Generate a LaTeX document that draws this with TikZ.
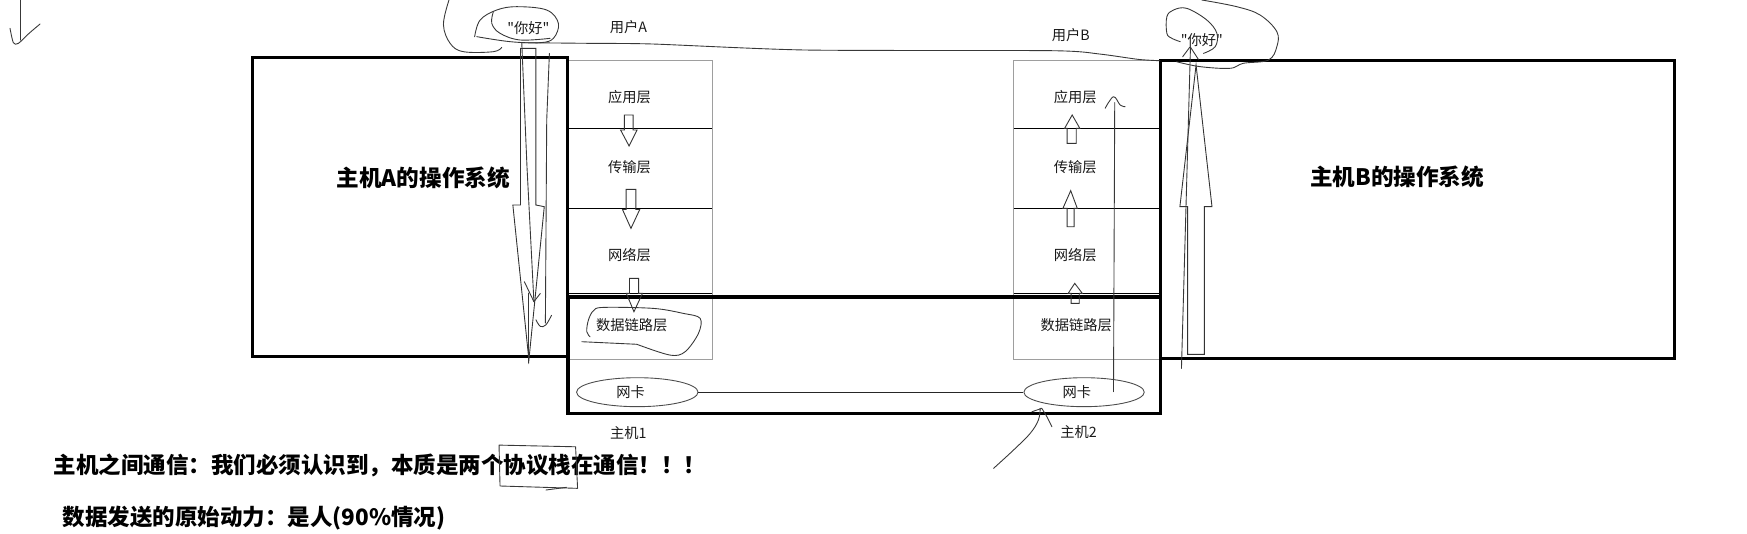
\documentclass[tikz,border=0pt]{standalone}
\usepackage{fontspec}
\setmainfont{Noto Sans CJK SC}
\newfontfamily\rawcjk{Noto Sans CJK SC}
\usetikzlibrary{shapes.geometric}
\begin{document}
\begin{tikzpicture}[x=1pt,y=-1pt,
  thickbox/.style={draw=black, line width=3pt, rectangle, inner sep=0pt},
  layerbox/.style={draw=black!38, line width=0.9pt, rectangle, inner sep=0pt},
  sep/.style={draw=black, line width=0.9pt},
  lbl/.style={font=\fontsize{12.8}{14}\selectfont, text=black!90, inner sep=0pt},
  hello/.style={font=\rawcjk\fontsize{12.8}{14}\selectfont, text=black!90, inner sep=0pt},
  oslbl/.style={font=\fontsize{20.3}{24}\selectfont\bfseries, inner sep=0pt},
  note/.style={font=\fontsize{20.2}{24}\selectfont\bfseries, inner sep=0pt, anchor=west},
  scrib/.style={draw=black!78, line width=0.8pt, line join=round, line cap=round},
  hollow/.style={draw=black!80, line width=0.8pt, line join=miter},
  nic/.style={ellipse, draw=black!70, line width=0.8pt, minimum width=109pt, minimum height=26pt, inner sep=0pt},
  link/.style={draw=black!85, line width=0.8pt}
]
\useasboundingbox (0,0) rectangle (1568,479);

% protocol stacks (grey frames, black separators)
\node[layerbox, minimum width=129.9pt, minimum height=269.1pt] (stackA) at (574.45,188.45) {};
\node[layerbox, minimum width=131.2pt, minimum height=269.1pt] (stackB) at (975.4,188.45) {};
\foreach \yy in {115.2,187,263.3}{
  \draw[sep] (509.5,\yy) -- (639.4,\yy);
  \draw[sep] (909.8,\yy) -- (1041,\yy);
}

% operating systems and host area
\node[thickbox, minimum width=282.7pt, minimum height=268.5pt] (osA) at (368.05,185.75) {};
\node[thickbox, minimum width=461.7pt, minimum height=267.5pt] (osB) at (1272.15,188.25) {};
\node[thickbox, minimum width=531.4pt, minimum height=104.4pt] (hosts) at (775.6,318.8) {};

\node[oslbl] (osAtxt) at (380,160) {主机A的操作系统};
\node[oslbl] (osBtxt) at (1254,159) {主机B的操作系统};

% layer labels
\node[lbl] (appA) at (565,87) {应用层};
\node[lbl] (traA) at (565,150) {传输层};
\node[lbl] (netA) at (565,229) {网络层};
\node[lbl] (dlA) at (567,292) {数据链路层};
\node[lbl] (appB) at (965,87) {应用层};
\node[lbl] (traB) at (965,150) {传输层};
\node[lbl] (netB) at (965,229) {网络层};
\node[lbl] (dlB) at (966,292) {数据链路层};

% users and hello
\node[lbl] (userA) at (564,24) {用户A};
\node[lbl] (userB) at (961,31.5) {用户B};
\node[hello] (helloA) at (474.3,25.4) {"你好"};
\node[hello] (helloB) at (1078.7,35.9) {"你好"};

% network cards
\node[nic] (nicA) at (572,352) {};
\node[nic, minimum width=108pt] (nicB) at (973,352) {};
\node[lbl] (nicAtxt) at (566,352) {网卡};
\node[lbl] (nicBtxt) at (966.5,352) {网卡};
\draw[link] (nicA.east) -- (nicB.west);

\node[lbl] (host1) at (564,389) {主机1};
\node[lbl] (host2) at (968,387.5) {主机2};

% notes
\node[note] (note1) at (48,417.4) {主机之间通信：我们必须认识到，本质是两个协议栈在通信！！！};
\node[note] (note2) at (56,465.3) {数据发送的原始动力：是人(90\%情况)};

% small hollow arrows in stack A (down)
\draw[hollow] (560.4,103.2) -- (568.3,103.2) -- (568.3,116.7) -- (571.8,116.7) -- (564.6,131) -- (557,116.7) -- (560.4,116.7) -- cycle;
\draw[hollow] (562,170) -- (570.7,170) -- (570.7,188) -- (574.2,188) -- (566.3,205) -- (558.7,188) -- (562,188) -- cycle;
\draw[hollow] (565,249.8) -- (573.2,249.8) -- (573.2,263.3) -- (576.6,263.3) -- (569,279.8) -- (562.2,263.3) -- (565,263.3) -- cycle;

% small hollow arrows in stack B (up)
\draw[hollow] (957.8,128.7) -- (966,128.7) -- (966,115.2) -- (969.2,115.2) -- (962.3,103.2) -- (955.5,115.2) -- (957.8,115.2) -- cycle;
\draw[hollow] (957.8,203.5) -- (964.1,203.5) -- (964.1,187) -- (966.9,187) -- (961,171.1) -- (954,187) -- (957.8,187) -- cycle;
\draw[hollow] (961.4,272.3) -- (968.7,272.3) -- (968.7,263.3) -- (971.4,263.3) -- (964.6,254.3) -- (958.7,263.3) -- (961.4,263.3) -- cycle;

% big hollow arrows
\draw[hollow] (467.2,43.4) -- (480.9,43.4) -- (480.9,184) -- (488.5,185.5) -- (474.7,323) -- (460.3,184) -- (467.2,184) -- cycle;
\draw[hollow] (1065.9,318) -- (1081,318) -- (1081,185.5) -- (1087.8,185.5) -- (1073.5,58.3) -- (1059,185.5) -- (1065.9,185.5) -- cycle;

% scribbles
\draw[scrib] (18,0) -- (18,36);
\draw[scrib] plot[smooth, tension=0.5] coordinates {(9,25.4) (12,38.3) (16.5,38.9) (26,30) (36,21.5)};

\draw[scrib] plot[smooth, tension=0.6] coordinates {(403,0) (398,22) (404,38.9) (416,46.4) (442.8,46.4) (450.3,42.5)};
\draw[scrib] plot[smooth, tension=0.6] coordinates {(426,33) (430.9,18) (445.8,9) (463.8,6) (490.7,9) (501.2,21) (496.7,34.4) (484.7,38.3) (457.8,37.4) (427.9,32.9)};
\draw[scrib] plot[smooth, tension=0.6] coordinates {(442.8,10.5) (441.4,21) (448.8,29.9) (466.8,35.9) (493.7,34.4)};
\draw[scrib] plot[smooth, tension=0.4] coordinates {(468.3,38.3) (529.6,38.9) (586,39.5) (723.6,44.9) (944,45.5) (987,48.5) (1021.6,53.3) (1041,54.5)};

\draw[scrib] (468.3,38.3) -- (473,150) -- (479.2,270.8);
\draw[scrib] (470.6,252.8) -- (479.2,270.8) -- (485,263.3);
\draw[scrib] (493.1,47.9) -- (490.7,107.7) -- (489.5,290);
\draw[scrib] plot[smooth, tension=0.6] coordinates {(481,287) (485,293) (490,291.5) (495,283)};
\draw[scrib] (474.7,263) -- (474.7,326);

\draw[scrib] plot[smooth, tension=0.6] coordinates {(1078.7,0) (1110,6) (1131,13.5) (1146,28.4) (1146,41.9) (1138.5,53.9) (1116,56.8) (1104,61.3) (1077,59.8) (1056,55.4)};
\draw[scrib] plot[smooth, tension=0.6] coordinates {(1059.3,37.4) (1051.8,34.4) (1047.3,29.9) (1047.3,15) (1053.2,9) (1065.2,7.5) (1083.2,18) (1092.2,29.9) (1090.7,41.9) (1080.2,47.9)};
\draw[scrib] (1060.4,330.6) -- (1068.5,41.9);
\draw[scrib] (1061.5,50.9) -- (1068.2,41.9) -- (1075.6,53.3);

\draw[scrib] (999.4,351.6) -- (1000.5,92);
\draw[scrib] plot[smooth, tension=0.6] coordinates {(991.9,97.2) (999.4,86.8) (1005.4,94.3) (1009.9,95.8)};

\draw[scrib] plot[smooth, tension=0.6] coordinates {(891.7,420.4) (909.6,404) (924.6,389) (932,377) (933.6,366.5)};
\draw[scrib] (926.1,369.6) -- (935,366.5);
\draw[scrib] plot[smooth, tension=0.6] coordinates {(935,366.5) (939.6,374) (944.1,383)};

\draw[scrib] plot[smooth, tension=0.55] coordinates {(529.6,302.2) (526.6,297.7) (528.1,287.3) (532.6,278.9) (541.6,275.9) (586.5,276.8) (613.4,281.3) (628.4,285.7) (626.9,299.2) (614.9,315.7) (601.4,318.7) (571.5,309)};
\draw[scrib] (571.5,309) -- (522.2,306.7);

\draw[scrib] (448.8,436.2) -- (447.9,399.5) -- (516.6,401) -- (518.4,438.3) -- (448.8,436.2);
\draw[scrib] (490,439.8) -- (508.4,437.4);
\end{tikzpicture}
\end{document}
